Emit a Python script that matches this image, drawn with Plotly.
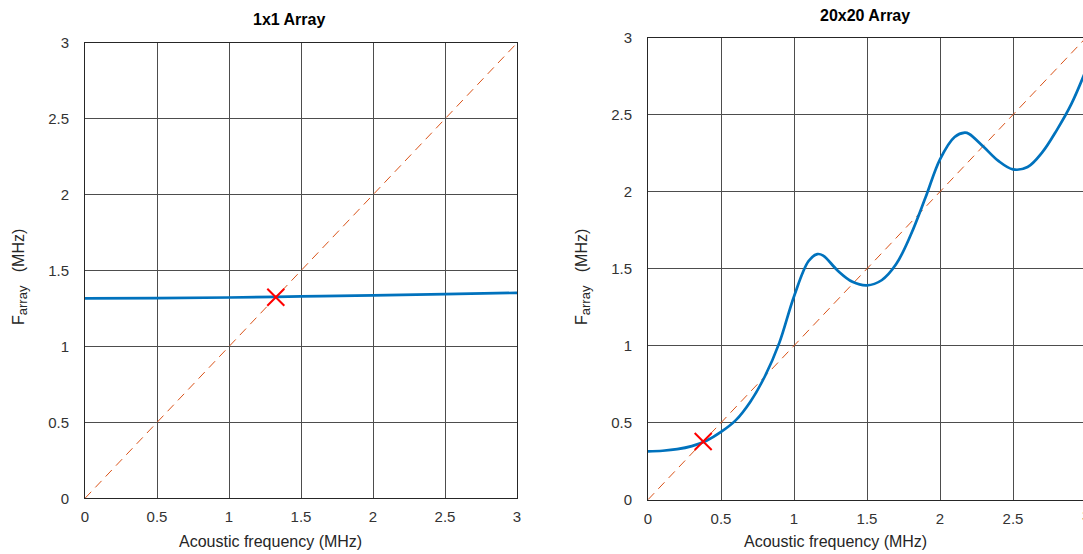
import plotly.graph_objects as go

# ---- data ----
x_left = [0.0, 0.5, 1.0, 1.5, 2.0, 2.5, 3.0]
y_left = [1.317, 1.319, 1.323, 1.330, 1.337, 1.345, 1.354]
marker_left = [1.325]

x_right = [0.0, 0.1, 0.2, 0.3, 0.4, 0.5, 0.6, 0.7, 0.8, 0.9, 1.0, 1.1, 1.16, 1.2, 1.3,
           1.4, 1.5, 1.6, 1.7, 1.8, 1.9, 2.0, 2.1, 2.17, 2.2, 2.3, 2.4, 2.5, 2.6,
           2.7, 2.8, 2.9, 3.0]
y_right = [0.314, 0.318, 0.328, 0.348, 0.383, 0.44, 0.515, 0.635, 0.80, 1.02, 1.32, 1.55, 1.595, 1.585, 1.487,
           1.415, 1.392, 1.425, 1.53, 1.72, 1.96, 2.21, 2.355, 2.383, 2.375, 2.29, 2.20, 2.145, 2.16,
           2.255, 2.40, 2.57, 2.79]
marker_right = [0.378]

diag = [0, 3]
ticks = [0, 0.5, 1, 1.5, 2, 2.5, 3]
tick_text = ["0", "0.5", "1", "1.5", "2", "2.5", "3"]

titles = ["1x1 Array", "20x20 Array"]
xlabel = "Acoustic frequency (MHz)"
ylabel = "F<sub><span style='font-size:13px'>array</span></sub>   (MHz)"

BLUE = "#0072BD"
ORANGE = "#D95319"
FONT = "Liberation Sans, Arial, Helvetica, sans-serif"

W, H = 1083, 554
fig = go.Figure()

for i, (xs, ys, mk) in enumerate([(x_left, y_left, marker_left), (x_right, y_right, marker_right)]):
    xa = "x" if i == 0 else "x2"
    ya = "y" if i == 0 else "y2"
    fig.add_trace(go.Scatter(x=diag, y=diag, mode="lines", xaxis=xa, yaxis=ya,
                             line=dict(color=ORANGE, width=1, dash="9px,6px"), showlegend=False))
    fig.add_trace(go.Scatter(x=xs, y=ys, mode="lines", xaxis=xa, yaxis=ya,
                             line=dict(color=BLUE, width=2.7, shape="spline", smoothing=1.0),
                             showlegend=False))
    fig.add_trace(go.Scatter(x=mk, y=mk, mode="markers", xaxis=xa, yaxis=ya,
                             marker=dict(symbol="x-thin", size=17, line=dict(color="#FF0000", width=2)),
                             showlegend=False))

axis_common = dict(showgrid=True, gridcolor="#4d4d4d", gridwidth=1, zeroline=False,
                   showline=True, linecolor="#262626", linewidth=1, automargin=False,
                   tickmode="array", tickvals=ticks, ticktext=tick_text,
                   tickfont=dict(family=FONT, size=15, color="#333333"), ticks="")

xl0, xl1 = 85, 517
xr0 = 648
r_scale = 146.0
right_range_end = (W - xr0) / r_scale

fig.update_layout(
    width=W, height=H,
    margin=dict(l=0, r=0, t=0, b=0, autoexpand=False),
    paper_bgcolor="white", plot_bgcolor="white",
    font=dict(family=FONT, color="#262626"),
    xaxis=dict(axis_common, domain=[xl0 / W, xl1 / W], range=[0, 3], mirror=True, anchor="y",
               ticklabelstandoff=5),
    yaxis=dict(axis_common, domain=[(H - 498.3) / H, (H - 43) / H], range=[0, 3], mirror=True, anchor="x",
               ticklabelstandoff=12),
    xaxis2=dict(axis_common, domain=[xr0 / W, 1.0], range=[0, right_range_end], mirror=True, anchor="y2",
                ticklabelstandoff=5),
    yaxis2=dict(axis_common, domain=[(H - 499.7) / H, (H - 37.7) / H], range=[0, 3], mirror=False, anchor="x2",
                ticklabelstandoff=12),
)

ann = []
# titles
ann.append(dict(text="<b>%s</b>" % titles[0], x=289 / W, y=1 - 19 / H, xref="paper", yref="paper",
                showarrow=False, font=dict(size=16, color="black", family=FONT), xanchor="center", yanchor="middle"))
ann.append(dict(text="<b>%s</b>" % titles[1], x=865 / W, y=1 - 15 / H, xref="paper", yref="paper",
                showarrow=False, font=dict(size=16, color="black", family=FONT), xanchor="center", yanchor="middle"))
# x labels
for cx in [270, 835]:
    ann.append(dict(text=xlabel, x=cx / W, y=1 - 541.5 / H, xref="paper", yref="paper", showarrow=False,
                    font=dict(size=16, color="#262626", family=FONT), xanchor="center", yanchor="middle"))
# y labels
for cx in [20, 583]:
    ann.append(dict(text=ylabel, x=cx / W, y=1 - 277 / H, xref="paper", yref="paper", showarrow=False,
                    textangle=-90, font=dict(size=16, color="#262626", family=FONT),
                    xanchor="center", yanchor="middle"))
# partially visible "3" tick label of the right plot
ann.append(dict(text="3", x=(xr0 + 3 * r_scale) / W, y=1 - 515 / H, xref="paper", yref="paper",
                showarrow=False, font=dict(size=15, color="#333333", family=FONT),
                xanchor="center", yanchor="middle"))
fig.update_layout(annotations=ann)

fig.write_html("out.html", config={"displayModeBar": False},
               post_script="document.body.style.margin='0';document.body.style.overflow='hidden';")
